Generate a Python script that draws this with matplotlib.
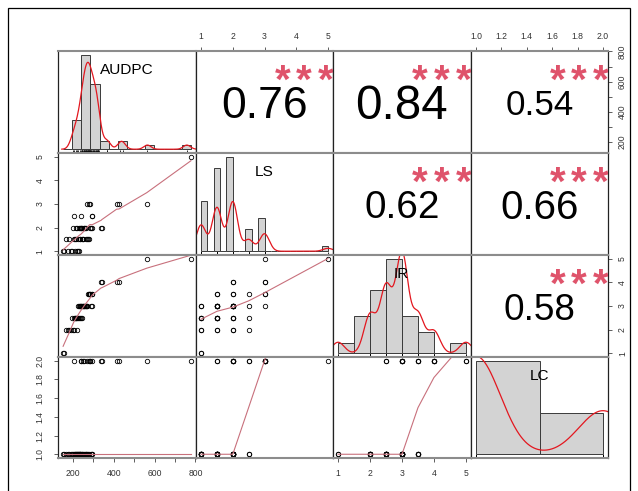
import numpy as np
import matplotlib
matplotlib.use("Agg")
import matplotlib.pyplot as plt
from matplotlib.transforms import offset_copy
from matplotlib.patches import Rectangle
from matplotlib.textpath import TextPath
from matplotlib.font_manager import FontProperties

plt.rcParams['font.family'] = ['Liberation Sans', 'DejaVu Sans']

##############################################################################
# data (one row per observation, read off the scatter panels)
##############################################################################

names = ['AUDPC', 'LS', 'IR', 'LC']

audpc = [339, 341, 414, 426, 562, 778, 268, 280, 284, 203, 241, 292, 292, 205, 238, 247, 255, 285,
         152, 158, 176, 190, 196, 212, 222, 226, 230,
         168, 181, 208, 216, 224, 233, 236, 244, 249, 262, 271, 276, 281,
         202, 218, 214, 228, 246, 234, 240, 252, 258, 266, 289, 294]
ls = [2, 2, 3, 3, 3, 5, 3, 3, 3, 2.5, 2.5, 2.5, 2.5, 1.5, 2, 1.5, 2, 2,
      1, 1, 1, 1, 1, 1, 1, 1, 1,
      1.5, 1.5, 1.5, 1.5, 1.5, 1.5, 1.5, 1.5, 1.5, 1.5, 1.5, 1.5, 1.5,
      2, 2, 2, 2, 2, 2, 2, 2, 2, 2, 2, 2]
ir = [4, 4, 4, 4, 5, 5, 3, 3.5, 3.5, 2, 2.5, 3.5, 3, 2.5, 3, 3, 3, 3.5,
      1, 1, 2, 2, 2.5, 2.5, 2.5, 3, 3,
      2, 2, 2.5, 2.5, 2.5, 2.5, 3, 3, 3, 3, 3, 3.5, 3.5,
      2, 2, 2.5, 2.5, 2.5, 3, 3, 3, 3, 3, 3, 3.5]
lc = [2, 2, 2, 2, 2, 2, 2, 2, 2, 1, 2, 1, 2, 2, 2, 2, 2, 2,
      1, 1, 1, 1, 1, 1, 1, 1, 1,
      1, 1, 1, 1, 1, 1, 1, 1, 1, 1, 1, 1, 1,
      1, 1, 1, 1, 1, 1, 1, 1, 1, 1, 1, 1]

# correlation labels shown in the upper panels
cor_pairs = [(0, 1), (0, 2), (0, 3), (1, 2), (1, 3), (2, 3)]
cor_vals = [0.76, 0.84, 0.54, 0.62, 0.66, 0.58]
cor_stars = ['***', '***', '***', '***', '***', '***']

# histogram breaks (start, stop, step)
hist_breaks = {'AUDPC': (100, 800, 50), 'LS': (1, 5, 0.2), 'IR': (1, 5, 0.5), 'LC': (1, 2, 0.5)}

# axis ticks
tick_vals = {'AUDPC': [200, 300, 400, 500, 600, 700, 800],
             'LS': [1, 2, 3, 4, 5],
             'IR': [1, 2, 3, 4, 5],
             'LC': [1.0, 1.2, 1.4, 1.6, 1.8, 2.0]}
tick_labs = {'AUDPC': ['200', '', '400', '', '600', '', '800'],
             'LS': ['1', '2', '3', '4', '5'],
             'IR': ['1', '2', '3', '4', '5'],
             'LC': ['1.0', '1.2', '1.4', '1.6', '1.8', '2.0']}

data = {'AUDPC': np.array(audpc, float), 'LS': np.array(ls, float),
        'IR': np.array(ir, float), 'LC': np.array(lc, float)}

##############################################################################
# helpers
##############################################################################

def hist_counts(x, br):
    """ right-closed bins, lowest included (like R's hist) """
    idx = np.searchsorted(br, x, side='left') - 1
    idx = np.clip(idx, 0, len(br) - 2)
    return np.bincount(idx, minlength=len(br) - 1)

def kde(x):
    """ gaussian density with bw.nrd0 """
    n = len(x)
    sd = x.std(ddof=1)
    q75, q25 = np.percentile(x, [75, 25])
    bw = 0.9 * min(sd, (q75 - q25) / 1.34) * n ** -0.2
    grid = np.linspace(x.min() - 3 * bw, x.max() + 3 * bw, 512)
    d = np.exp(-0.5 * ((grid[:, None] - x[None, :]) / bw) ** 2).sum(1) / (n * bw * np.sqrt(2 * np.pi))
    return grid, d

def lowess(x, y, f=2/3, iters=3):
    order = np.argsort(x, kind='stable')
    x = x[order]
    y = y[order]
    n = len(x)
    ns = max(min(int(f * n + 1e-7), n), 2)
    rw = np.ones(n)
    ys = np.zeros(n)
    xr = x[-1] - x[0]
    for it in range(iters + 1):
        for i in range(n):
            r = np.abs(x - x[i])
            h = np.sort(r)[ns - 1]
            w = np.zeros(n)
            inside = r <= 0.999 * h
            w[inside] = (1 - (r[inside] / h) ** 3) ** 3 if h > 0 else 1
            w[r <= 0.001 * h] = 1
            w = w * rw
            if w.sum() <= 0:
                ys[i] = y[i]
                continue
            w = w / w.sum()
            if h > 0:
                a = np.sum(w * x)
                b = x[i] - a
                c = np.sum(w * (x - a) ** 2)
                if np.sqrt(c) > 0.001 * xr:
                    b = b / c
                    w = w * (b * (x - a) + 1)
            ys[i] = np.sum(w * y)
        if it == iters:
            break
        res = y - ys
        cmad = 6 * np.median(np.abs(res))
        if cmad < 1e-7 * np.mean(np.abs(y)):
            break
        rr = np.abs(res)
        rw = np.where(rr <= 0.001 * cmad, 1.0,
                      np.where(rr <= 0.999 * cmad, (1 - (rr / cmad) ** 2) ** 2, 0.0))
    return x, ys

def data_lims(v):
    lo, hi = v.min(), v.max()
    e = 0.04 * (hi - lo)
    return lo - e, hi + e

def ink(txt, weight):
    """ ink extents of a string at size 1 """
    fp = FontProperties(family='Liberation Sans', weight=weight)
    return TextPath((0, 0), txt, size=1, prop=fp).get_extents()

def put_text(ax, x, y, txt, width_px=None, height_px=None, size_px=None, color='black',
             clip=False, weight='normal'):
    """ put txt so its ink is centred on (x, y) in axes fraction """
    e = ink(txt, weight)
    if size_px is None:
        size_px = width_px / e.width if width_px else height_px / e.height
    fs = size_px * 0.72
    dx = -(e.x0 + e.x1) / 2 * fs
    dy = -(e.y0 + e.y1) / 2 * fs
    ax.text(x, y, txt, ha='left', va='baseline', family='Liberation Sans', size=fs, color=color,
            weight=weight, clip_on=clip,
            transform=offset_copy(ax.transAxes, fig=ax.figure, x=dx, y=dy, units='points'))

##############################################################################
# figure
##############################################################################

W, H = 638, 491
xe = [58, 196, 333, 471, 608]
ye = [51, 153, 255, 357, 458]
pw = 137.5
star_x = [0.63, 0.79, 0.95]

fig = plt.figure(figsize=(W / 100, H / 100), dpi=100)

stars_col = '#DF536B'
smooth_col = '#C8707C'

def style(ax):
    ax.set_xticks([])
    ax.set_yticks([])
    for s in ['left', 'right']:
        ax.spines[s].set_color('#222222')
        ax.spines[s].set_linewidth(0.9)
    for s in ['top', 'bottom']:
        ax.spines[s].set_color('#8c8c8c')
        ax.spines[s].set_linewidth(1.5)

axes = {}
for i in range(4):
    for j in range(4):
        ax = fig.add_axes([xe[j] / W, 1 - ye[i + 1] / H, (xe[j + 1] - xe[j]) / W, (ye[i + 1] - ye[i]) / H])
        axes[(i, j)] = ax
        vx = data[names[j]]
        vy = data[names[i]]
        if i == j:
            b0, b1, st = hist_breaks[names[i]]
            br = np.round(np.arange(b0, b1 + st / 2, st), 6)
            cnt = hist_counts(vx, br)
            dens = cnt / (len(vx) * st)
            ax.bar(br[:-1], dens, width=st, align='edge', color='#D3D3D3', edgecolor='#3a3a3a', linewidth=0.7)
            g, d = kde(vx)
            ax.plot(g, d, color='#E3171F', lw=0.9)
            ax.vlines(vx, 0, 0.03, transform=ax.get_xaxis_transform(), color='black', lw=0.6)
            ax.set_xlim(br[0] - 0.04 * (br[-1] - br[0]), br[-1] + 0.04 * (br[-1] - br[0]))
            ax.set_ylim(-0.04 * dens.max(), 1.04 * dens.max())
            put_text(ax, 0.5, 0.826, names[i], size_px=15.4)
        elif i > j:
            ax.set_xlim(*data_lims(vx))
            ax.set_ylim(*data_lims(vy))
            ax.plot(vx, vy, 'o', mfc='none', mec='black', ms=3.2, mew=0.6)
            sx, sy = lowess(vx, vy)
            ax.plot(sx, sy, color=smooth_col, lw=0.8)
        else:
            ax.set_xlim(*data_lims(vx))
            ax.set_ylim(*data_lims(vy))
            k = cor_pairs.index((i, j))
            r = cor_vals[k]
            txt = '%.2f' % r
            put_text(ax, 0.5, 0.49, txt, width_px=0.74 * (abs(r) + 0.3) / 1.3 * pw)
            for sx_, ch in zip(star_x, cor_stars[k]):
                put_text(ax, sx_, 0.785, ch, height_px=15, color=stars_col, clip=True, weight='bold')
        style(ax)

tick_kw = dict(direction='out', length=3.2, width=0.6, color='#444444', labelsize=6.2, labelcolor='#333333')

def put_ticks(ax, side, var):
    if side in ('top', 'bottom'):
        ax.set_xticks(tick_vals[var])
        ax.set_xticklabels(tick_labs[var])
        if side == 'top':
            ax.xaxis.tick_top()
            ax.tick_params(axis='x', pad=4.3, **tick_kw)
        else:
            ax.tick_params(axis='x', pad=5.0, **tick_kw)
    else:
        ax.set_yticks(tick_vals[var])
        ax.set_yticklabels(tick_labs[var])
        if side == 'right':
            ax.yaxis.tick_right()
            ax.tick_params(axis='y', pad=4.0, labelrotation=90, **tick_kw)
        else:
            ax.tick_params(axis='y', pad=6.3, labelrotation=90, **tick_kw)
        for t in ax.get_yticklabels():
            t.set_va('center')

put_ticks(axes[(0, 1)], 'top', 'LS')
put_ticks(axes[(0, 3)], 'top', 'LC')
put_ticks(axes[(0, 3)], 'right', 'AUDPC')
put_ticks(axes[(2, 3)], 'right', 'IR')
put_ticks(axes[(1, 0)], 'left', 'LS')
put_ticks(axes[(3, 0)], 'left', 'LC')
put_ticks(axes[(3, 0)], 'bottom', 'AUDPC')
put_ticks(axes[(3, 2)], 'bottom', 'IR')

# outer frame of the figure
fig.add_artist(Rectangle((8 / W, -0.05), (630 - 8) / W, 1.05 - 8 / H, transform=fig.transFigure,
                         fill=False, ec='black', lw=0.9))

fig.savefig('out.png', dpi=100)
